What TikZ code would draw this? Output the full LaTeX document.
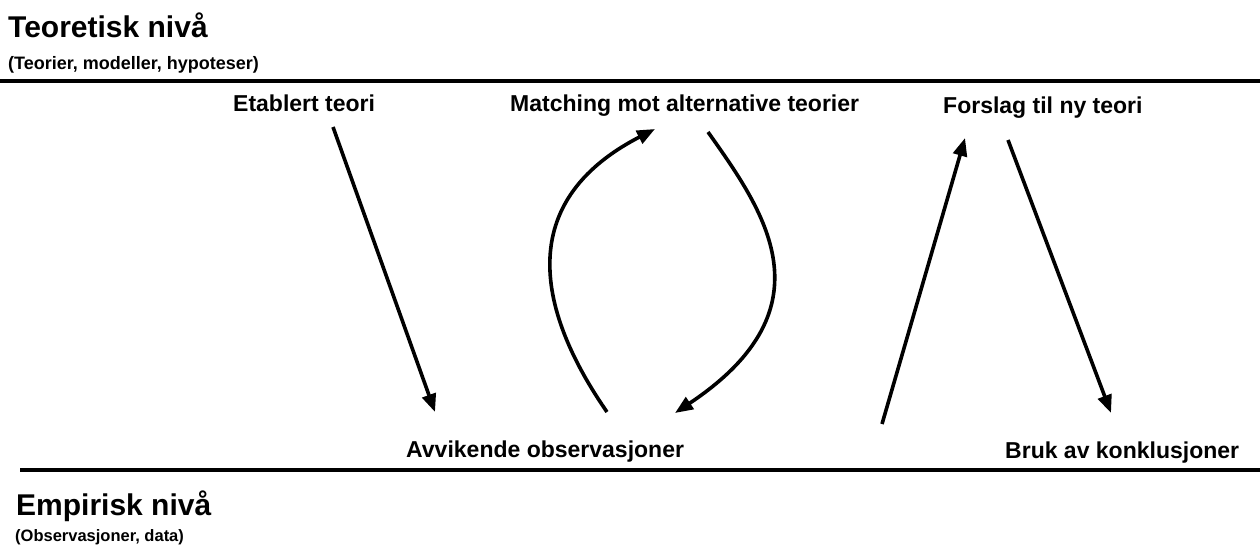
\documentclass[tikz,border=0pt]{standalone}
\usepackage{fontspec}
\setmainfont{Liberation Sans}
\usetikzlibrary{arrows.meta}
\begin{document}
\begin{tikzpicture}[x=1pt,y=-1pt,
  lbl/.style={anchor=base west,inner sep=0pt,font=\fontsize{23}{23}\selectfont\bfseries},
  ttl/.style={anchor=base west,inner sep=0pt,font=\fontsize{30}{30}\selectfont\bfseries},
  subt/.style={anchor=base west,inner sep=0pt,font=\fontsize{18}{18}\selectfont\bfseries},
  arr/.style={line width=3.6pt,-{Triangle[length=18pt,width=14pt]}},
  rule/.style={line width=3.2pt}]
\useasboundingbox[fill=white] (0,0) rectangle (1260,549);
\node[ttl] (teo) at (8,37) {Teoretisk nivå};
\node[subt] (teosub) at (8,69) {(Teorier, modeller, hypoteser)};
\draw[rule] (0,81) -- (1260,81);
\draw[rule] (20,470) -- (1260,470);
\node[ttl] (emp) at (16,515) {Empirisk nivå};
\node[subt,font=\fontsize{16.5}{16.5}\selectfont\bfseries] (empsub) at (15,541) {(Observasjoner, data)};
\node[lbl] (etab) at (233,111) {Etablert teori};
\node[lbl] (match) at (510,111) {Matching mot alternative teorier};
\node[lbl] (forslag) at (943,113) {Forslag til ny teori};
\node[lbl] (avv) at (406,457) {Avvikende observasjoner};
\node[lbl] (bruk) at (1005,458) {Bruk av konklusjoner};
\draw[arr] ([shift={(100,16)}]etab.base west) -- ([shift={(29,-45)}]avv.base west);
\draw[arr] ([shift={(201,-45)}]avv.base west) .. controls (551,331) and (500,209) .. ([shift={(145,18)}]match.base west);
\draw[arr] ([shift={(198,21)}]match.base west) .. controls (763,210) and (834,307) .. ([shift={(269,-44)}]avv.base west);
\draw[arr] ([shift={(-123,-34)}]bruk.base west) -- ([shift={(22,25)}]forslag.base west);
\draw[arr] ([shift={(65,27)}]forslag.base west) -- ([shift={(106,-45)}]bruk.base west);
\end{tikzpicture}
\end{document}
